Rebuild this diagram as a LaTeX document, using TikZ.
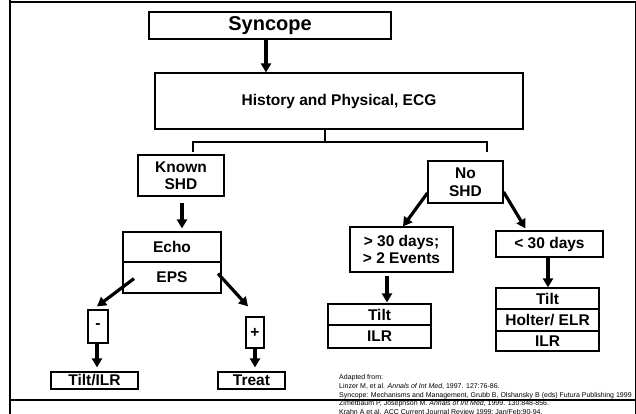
\documentclass[tikz,border=0pt]{standalone}
\usepackage{fontspec}
\setmainfont{Liberation Sans}
\usetikzlibrary{arrows.meta}
\tikzset{
  box/.style={draw=black, line width=1.2pt, fill=white, inner sep=0pt, align=center,
    font=\fontsize{15.5}{18}\selectfont\bfseries},
  arr/.style={line width=3.2pt, -{Triangle[length=9pt,width=10pt]}},
  link/.style={line width=1.8pt},
  frame/.style={line width=1.4pt},
  cite/.style={anchor=base west, inner sep=0pt, font=\fontsize{7}{8}\selectfont}
}
\begin{document}
\begin{tikzpicture}[x=1pt,y=-1pt]
\useasboundingbox (0,0) rectangle (636,414);
% frame
\draw[frame] (10,2) -- (636,2);
\draw[line width=0.8pt] (635.5,2) -- (635.5,414);
\draw[line width=2.8pt] (10,0) -- (10,414);
% nodes
\node[box, minimum width=242, minimum height=27, font=\fontsize{20}{22}\selectfont\bfseries] (syn) at (270,25.5) {Syncope};
\node[box, minimum width=368, minimum height=56] (hp) at (339,101) {History and Physical, ECG};
\node[box, minimum width=86, minimum height=41, font=\fontsize{15.5}{17.5}\selectfont\bfseries] (known) at (181,175.5) {Known\\SHD};
\node[box, minimum width=75, minimum height=42, font=\fontsize{15.5}{17.5}\selectfont\bfseries] (noshd) at (465.5,182) {No\\SHD};
\node[box, minimum width=98, minimum height=30] (echo) at (172,247) {Echo};
\node[box, minimum width=98, minimum height=31] (eps) at (172,277.5) {EPS};
\node[box, minimum width=20, minimum height=33] (neg) at (98,326.5) {-};
\node[box, minimum width=18, minimum height=31] (pos) at (255,332.5) {+};
\node[box, minimum width=87, minimum height=17] (tiltilr) at (94.5,380.5) {Tilt/ILR};
\node[box, minimum width=67, minimum height=17] (treat) at (251.5,380.5) {Treat};
\node[box, minimum width=103, minimum height=45, font=\fontsize{15.5}{17.5}\selectfont\bfseries] (gt) at (401.5,249.5) {> 30 days;\\> 2 Events};
\node[box, minimum width=107, minimum height=26] (lt) at (549.5,244) {< 30 days};
\node[box, minimum width=103, minimum height=21] (ltilt) at (379.5,314.5) {Tilt};
\node[box, minimum width=103, minimum height=23] (lilr) at (379.5,336.5) {ILR};
\node[box, minimum width=103, minimum height=21] (rtilt) at (547.5,298.5) {Tilt};
\node[box, minimum width=103, minimum height=22] (rholt) at (547.5,320) {Holter/ ELR};
\node[box, minimum width=103, minimum height=20] (rilr) at (547.5,341) {ILR};
% connectors
\draw[arr] ([xshift=-4]syn.south) -- ([xshift=-4]syn.south |- hp.north);
\coordinate (bj) at (325,142);
\coordinate (bl) at (193,152);
\coordinate (br) at (487,152);
\draw[link] ([xshift=-14]hp.south) -- (bj);
\draw[link] (bl) -- (bl |- bj) -- (br |- bj) -- (br);
\draw[arr, shorten <=6pt, shorten >=3pt] ([xshift=1]known.south) -- ([xshift=1]known.south |- echo.north);
\draw[arr] ([xshift=-38,yshift=15]eps.south) -- ([xshift=-1,yshift=3]neg.north);
\draw[arr] ([xshift=46,yshift=20]eps.south) -- ([xshift=-7,yshift=10]pos.north);
\draw[arr, shorten >=4pt] ([xshift=-1]neg.south) -- ([xshift=-1]neg.south |- tiltilr.north);
\draw[arr, shorten >=4pt] (pos.south) -- (pos.south |- treat.north);
\draw[arr] ([yshift=-11]noshd.west) -- ([xshift=1.5,yshift=0]gt.north);
\draw[arr] ([yshift=-10]noshd.east) -- ([xshift=-24,yshift=2]lt.north);
\draw[arr, shorten <=3pt, shorten >=1pt] ([xshift=-14.5]gt.south) -- ([xshift=-14.5]gt.south |- ltilt.north);
\draw[arr] ([xshift=-1.5]lt.south) -- ([xshift=-1.5]lt.south |- rtilt.north);
% citations
\node[cite] (c1) at (339,379.5) {Adapted from:};
\node[cite] (c2) at (339,388.5) {Linzer M, et al. \textit{Annals of Int Med}, 1997. 127:76-86.};
\node[cite] (c3) at (339,397) {\underline{Syncope: Mechanisms and Management}, Grubb B, Olshansky B (eds) Futura Publishing 1999};
\node[cite] (c4) at (339,405.5) {Zimetbaum P, Josephson M. \textit{Annals of Int Med}, 1999. 130:848-856.};
\node[cite] (c5) at (339,414) {Krahn A et al. ACC Current Journal Review 1999; Jan/Feb:90-94.};
\draw[frame] (10,400) -- (636,400);
\end{tikzpicture}
\end{document}
